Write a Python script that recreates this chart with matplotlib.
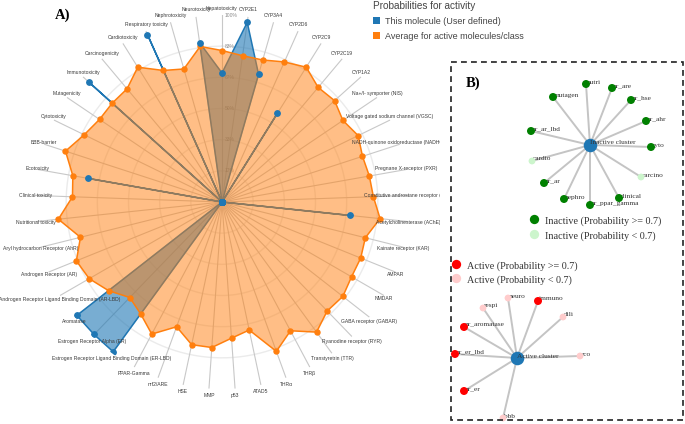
import matplotlib.pyplot as plt
import numpy as np
from matplotlib.patches import Patch, Rectangle

# ---- panel A: radar data (clockwise from the top) ----
categories = [
    "Hepatotoxicity", "CYP2E1", "CYP3A4", "CYP2D6", "CYP2C9", "CYP2C19", "CYP1A2",
    "Na+/I- symporter (NIS)", "Voltage gated sodium channel (VGSC)",
    "NADH-quinone oxidoreductase (NADHOX)", "Pregnane X-receptor (PXR)",
    "Constitutive androstane receptor (CAR)", "Acetylcholinesterase (AChE)",
    "Kainate receptor (KAR)", "AMPAR", "NMDAR", "GABA receptor (GABAR)",
    "Ryanodine receptor (RYR)", "Transtyretrin (TTR)", "THRβ", "THRα", "ATAD5",
    "p53", "MMP", "HSE", "nrf2/ARE", "PPAR-Gamma",
    "Estrogen Receptor Ligand Binding Domain (ER-LBD)", "Estrogen Receptor Alpha (ER)",
    "Aromatase", "Androgen Receptor Ligand Binding Domain (AR-LBD)",
    "Androgen Receptor (AR)", "Aryl hydrocarbon Receptor (AhR)",
    "Nutritional toxicity", "Clinical toxicity", "Ecotoxicity", "BBB-barrier",
    "Cytotoxicity", "Mutagenicity", "Immunotoxicity", "Carcinogenicity",
    "Cardiotoxicity", "Respiratory toxicity", "Nephrotoxicity", "Neurotoxicity",
]
average_active = [
    0.81, 0.79, 0.79, 0.82, 0.85, 0.80, 0.81, 0.78, 0.81, 0.79, 0.80, 0.81,
    0.85, 0.79, 0.80, 0.80, 0.82, 0.81, 0.86, 0.78, 0.85, 0.70, 0.73, 0.78,
    0.78, 0.71, 0.80, 0.74, 0.71, 0.77, 0.82, 0.84, 0.78, 0.88, 0.80, 0.81,
    0.88, 0.82, 0.79, 0.79, 0.79, 0.85, 0.77, 0.74, 0.84,
]
this_molecule = [
    0.69, 0.97, 0.71, 0.0, 0.56, 0.0, 0.0, 0.0, 0.0, 0.0, 0.0, 0.0,
    0.69, 0.0, 0.0, 0.0, 0.0, 0.0, 0.0, 0.0, 0.0, 0.0, 0.0, 0.0,
    0.0, 0.0, 0.0, 0.99, 0.985, 0.985, 0.0, 0.0, 0.0, 0.0, 0.0, 0.73,
    0.0, 0.0, 0.0, 0.96, 0.0, 0.0, 0.98, 0.0, 0.86,
]
radial_ticks = [1 / 6, 2 / 6, 3 / 6, 4 / 6, 5 / 6, 1.0]
radial_labels = ["17%", "33%", "50%", "67%", "83%", "100%"]

# ---- panel B: network layout (pixel-like layout coordinates) ----
inactive_center = (590, 145)
inactive_names = ["nutri", "nr_are", "nr_hse", "nr_ahr", "cyto", "carcino", "clinical",
                  "nr_ppar_gamma", "nephro", "nr_ar", "cardio", "nr_ar_lbd", "mutagen"]
inactive_high = [True, True, True, True, True, False, True, True, True, True, False, True, True]
inactive_x = [586, 612, 631, 646, 651, 641, 619, 590, 564, 544, 532, 531, 553]
inactive_y = [84, 88, 100, 121, 147, 177, 198, 205, 199, 183, 161, 131, 97]

active_center = (517, 358)
active_names = ["neuro", "immuno", "respi", "dili", "nr_aromatase", "nr_er_lbd",
                "eco", "nr_er", "bbb"]
active_high = [False, True, False, False, True, True, False, True, False]
active_x = [508, 538, 483, 563, 464, 455, 580, 464, 503]
active_y = [298, 301, 308, 317, 327, 354, 356, 391, 418]

BLUE = "#1f77b4"
ORANGE = "#ff7f0e"
SANS = "Liberation Sans"
SERIF = "Liberation Serif"

fig = plt.figure(figsize=(6.85, 4.24), dpi=100)

# ---------------- radar ----------------
ax = fig.add_axes([35 / 685, 35 / 424, 374 / 685, 374 / 424], projection="polar")
ax.set_theta_zero_location("N")
ax.set_theta_direction(-1)
ax.set_ylim(0, 1)
ax.set_xticks([])
ax.set_yticks([])
ax.grid(False)
ax.spines["polar"].set_visible(False)
ax.patch.set_alpha(0)

n = len(categories)
theta = np.deg2rad(np.arange(n) * 360.0 / n)
t_closed = np.append(theta, theta[0])
avg_closed = np.append(average_active, average_active[0])
mol_closed = np.append(this_molecule, this_molecule[0])

circle = np.linspace(0, 2 * np.pi, 300)
for r in radial_ticks[:-1]:
    ax.plot(circle, np.full_like(circle, r), color="#ebebeb", lw=1.0, zorder=1)
for t in theta:
    ax.plot([t, t], [0, 1], color="#c8c8c8", lw=0.8, zorder=1)
for r, lbl in zip(radial_ticks, radial_labels):
    ax.annotate(lbl, (0, r), xytext=(3, 0), textcoords="offset pixels",
                ha="left", va="center", fontsize=3.6, color="#8a8a8a",
                family=SANS, zorder=1, annotation_clip=False)

ax.fill(t_closed, mol_closed, color=BLUE, alpha=0.6, lw=0, zorder=2)
ax.plot(t_closed, mol_closed, color=BLUE, lw=1.1, zorder=2)
ax.fill(t_closed, avg_closed, color=ORANGE, alpha=0.5, lw=0, zorder=3)
ax.plot(t_closed, avg_closed, color=ORANGE, lw=1.1, zorder=3)
ax.plot(theta, average_active, "o", color=ORANGE, ms=3.6, zorder=4)
ax.plot(theta, this_molecule, "o", color=BLUE, ms=3.9, zorder=5)

for t, name in zip(theta, categories):
    ax.annotate(name, (t, 1.0), xytext=(0, 7 * np.cos(t)), textcoords="offset pixels",
                ha="center", va="center", fontsize=3.6, color="#3a3a3a",
                family=SANS, zorder=6, annotation_clip=False)

fig.text(63 / 685, 1 - 15 / 424, "A)", family=SERIF, fontweight="bold",
         fontsize=10.5, ha="center", va="center")

leg = fig.legend(handles=[Patch(facecolor=BLUE), Patch(facecolor=ORANGE)],
                 labels=["This molecule (User defined)", "Average for active molecules/class"],
                 title="Probabilities for activity", loc="upper left",
                 bbox_to_anchor=(373 / 685, 1 - 1 / 424), frameon=False,
                 title_fontsize=7.2, handlelength=0.8, handleheight=0.8,
                 handletextpad=0.55, labelspacing=0.65, borderpad=0, borderaxespad=0,
                 alignment="left", labelcolor="#444444",
                 prop={"family": SANS, "size": 6.5})
leg.get_title().set_color("#444444")
leg.get_title().set_family(SANS)

# ---------------- network panel ----------------
axb = fig.add_axes([440 / 685, 0, 245 / 685, 374 / 424], zorder=10)
axb.set_xlim(440, 685)
axb.set_ylim(424, 50)
axb.set_facecolor("white")
axb.set_xticks([])
axb.set_yticks([])
for s in axb.spines.values():
    s.set_visible(False)


def draw_cluster(center, label, names, xs, ys, high, c_high, c_low):
    cx, cy = center
    for x, y in zip(xs, ys):
        axb.plot([cx, x], [cy, y], color="#c4c4c4", lw=1.4, zorder=1)
    axb.scatter([cx], [cy], s=95, color=BLUE, zorder=2, linewidths=0)
    axb.text(cx, cy - 2, label, ha="left", va="center", fontsize=5.3,
             family=SERIF, color="#333333", zorder=3)
    for name, x, y in zip(names, xs, ys):
        axb.text(x + 1, y - 2, name, ha="left", va="center", fontsize=5.3,
                 family=SERIF, color="#333333", zorder=3)
    cols = [c_high if h else c_low for h in high]
    sizes = [33 if h else 24 for h in high]
    axb.scatter(xs, ys, s=sizes, c=cols, zorder=4, linewidths=0)


draw_cluster(inactive_center, "Inactive cluster", inactive_names, inactive_x,
             inactive_y, inactive_high, "#008000", "#ccf5cc")
draw_cluster(active_center, "Active cluster", active_names, active_x,
             active_y, active_high, "#ff0000", "#ffcccc")

legend_rows = [
    (534, 219, "#008000", "Inactive (Probability >= 0.7)"),
    (534, 234, "#ccf5cc", "Inactive (Probability < 0.7)"),
    (456, 264, "#ff0000", "Active (Probability >= 0.7)"),
    (456, 278, "#ffcccc", "Active (Probability < 0.7)"),
]
for x, y, c, txt in legend_rows:
    axb.scatter([x], [y], s=45, color=c, linewidths=0, zorder=4)
    axb.text(x + 11, y + 2, txt, ha="left", va="center", fontsize=7.3,
             family=SERIF, color="#333333", zorder=4)

axb.text(473, 83, "B)", family=SERIF, fontweight="bold", fontsize=10.5,
         ha="center", va="center")
axb.add_patch(Rectangle((451, 62), 232, 358, fill=False, ec="#222222", lw=1.2,
                        ls=(0, (3.5, 2.5)), zorder=5))

fig.savefig("out.png", dpi=100)
